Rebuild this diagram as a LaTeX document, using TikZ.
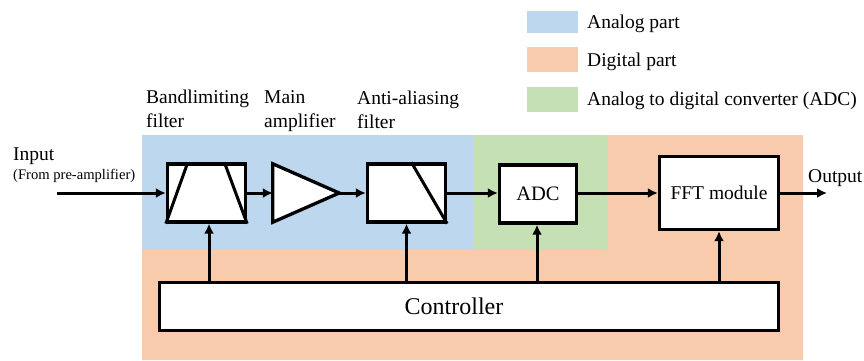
\documentclass[tikz,border=0pt]{standalone}
\usepackage{fontspec}
\setmainfont{Liberation Serif}
\usetikzlibrary{arrows.meta,calc}
\definecolor{analogc}{RGB}{189,215,238}
\definecolor{digitalc}{RGB}{248,203,173}
\definecolor{adcc}{RGB}{197,224,180}
\begin{document}
\begin{tikzpicture}[x=1pt,y=-1pt,
  blk/.style={draw,line width=3.3pt,fill=white,inner sep=0pt},
  arr/.style={line width=3pt,-{Latex[length=10pt,width=10pt]}},
  lbl/.style={inner sep=0pt,anchor=base west,font=\fontsize{19.5}{24}\selectfont,align=left},
  inner/.style={line width=3pt}]
\useasboundingbox (0,0) rectangle (864,360);
% regions
\fill[digitalc] (142,250) -- (607,250) -- (607,135) -- (803,135) -- (803,360) -- (142,360) -- cycle;
\fill[analogc] (142,135) rectangle (473,250);
\fill[adcc] (473,135) rectangle (607,250);
% legend
\fill[analogc] (527,11) rectangle (578,33);
\fill[digitalc] (527,47) rectangle (578,72);
\fill[adcc] (527,87) rectangle (578,112);
\node[lbl] (lg1) at (587,28) {Analog part};
\node[lbl] (lg2) at (587,66) {Digital part};
\node[lbl] (lg3) at (587,105) {Analog to digital converter (ADC)};
% blocks
\node[blk,minimum width=78pt,minimum height=58pt] (bl) at (206.5,193) {};
\draw[inner] ($(bl.north west)!0.27!(bl.north east)$) -- (bl.south west);
\draw[inner] ($(bl.north west)!0.72!(bl.north east)$) -- (bl.south east);
\node[inner sep=0pt,minimum width=66pt,minimum height=58pt] (amp) at (306,193) {};
\draw[line width=3.3pt,fill=white,line join=miter] (amp.north west) -- (amp.east) -- (amp.south west) -- cycle;
\node[blk,minimum width=78pt,minimum height=58pt] (aa) at (406.5,193) {};
\draw[inner] ($(aa.north west)!0.56!(aa.north east)$) -- (aa.south east);
\node[blk,minimum width=77pt,minimum height=58pt,font=\fontsize{20.5}{24}\selectfont] (adc) at (538,194) {ADC};
\node[blk,minimum width=119pt,minimum height=73pt,font=\fontsize{19.5}{24}\selectfont] (fft) at (719,193) {FFT module};
\node[blk,minimum width=619pt,minimum height=48pt] (ctrl) at (469,306.5) {};
\node[inner sep=0pt,font=\fontsize{24}{28}\selectfont] (ctrltxt) at (454,306) {Controller};
% labels
\node[lbl] (in1) at (13,160) {Input};
\node[lbl,font=\fontsize{14.6}{17}\selectfont] (in2) at (13,179) {(From pre-amplifier)};
\node[lbl] (out) at (808,182) {Output};
\node[lbl] (lbl1) at (146,127) {Bandlimiting\\filter};
\node[lbl] (lbl2) at (264,127) {Main\\amplifier};
\node[lbl] (lbl3) at (357,128) {Anti-aliasing\\filter};
% connectors
\coordinate (inp) at (57,193);
\coordinate (outp) at (827,193);
\draw[arr] (inp) -- (bl.west);
\draw[arr] (bl.east) -- (amp.west);
\draw[arr] (amp.east) -- (aa.west);
\draw[arr] (aa.east) -- (adc.west |- aa.east);
\draw[arr] (adc.east |- fft.west) -- (fft.west);
\draw[arr] (fft.east) -- (outp);
\draw[arr] ([xshift=2.5pt]bl.south |- ctrl.north) -- ([xshift=2.5pt]bl.south);
\draw[arr] (aa.south |- ctrl.north) -- (aa.south);
\draw[arr] ([xshift=-1pt]adc.south |- ctrl.north) -- ([xshift=-1pt]adc.south);
\draw[arr] (fft.south |- ctrl.north) -- (fft.south);
\end{tikzpicture}
\end{document}
